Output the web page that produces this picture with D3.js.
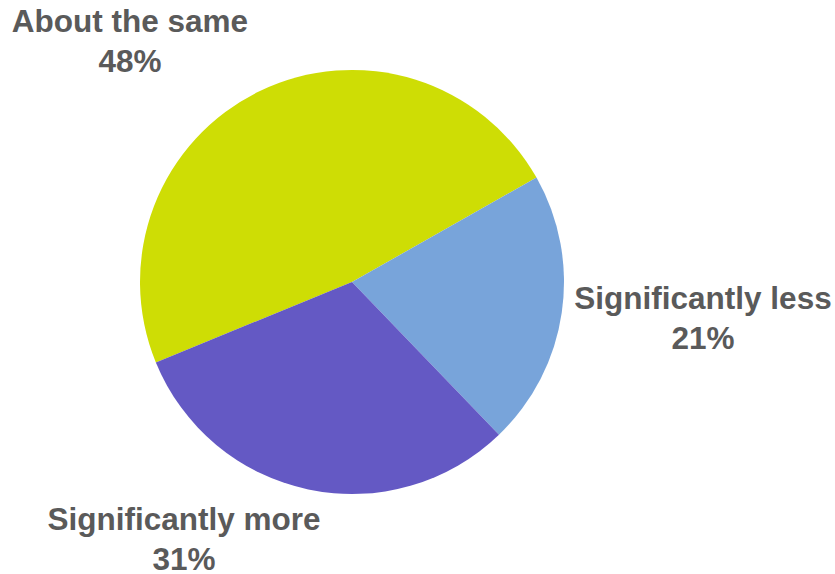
<!DOCTYPE html>
<html>
<head>
<meta charset="utf-8">
<script src="https://cdn.jsdelivr.net/npm/d3@7"></script>
<style>
  html, body { margin: 0; padding: 0; background: #ffffff; }
  svg { display: block; }
  .lbl { font-family: "Liberation Sans", Arial, sans-serif; font-weight: bold; font-size: 31.5px; fill: #5a5a5a; }
</style>
</head>
<body>
<svg id="chart" width="835" height="574"></svg>
<script>
// Survey responses (percent)
const categories = ["About the same", "Significantly less", "Significantly more"];
const values = [48, 21, 31];
const colors = ["#CEDD05", "#78A4DA", "#6459C4"];

const width = 835, height = 574;
const cx = 352, cy = 282, radius = 212;

const svg = d3.select("#chart");
const g = svg.append("g").attr("transform", `translate(${cx},${cy})`);

const data = categories.map((c, i) => ({ category: c, value: values[i], color: colors[i] }));

const startDeg = -112.3;
const pie = d3.pie()
  .sort(null)
  .value(d => d.value)
  .startAngle(startDeg * Math.PI / 180)
  .endAngle((startDeg + 360) * Math.PI / 180);

const arc = d3.arc().innerRadius(0).outerRadius(radius);

const arcs = pie(data);

g.selectAll("path.slice")
  .data(arcs)
  .join("path")
  .attr("class", "slice")
  .attr("d", arc)
  .attr("fill", d => d.data.color);

// Label anchor points (relative to the pie centre), one per category
const labelPos = {
  "About the same": [-222, -250],
  "Significantly less": [351, 27],
  "Significantly more": [-168, 248]
};
const lineGap = 40;

const labels = svg.append("g").selectAll("text")
  .data(arcs)
  .join("text")
  .attr("class", "lbl")
  .attr("text-anchor", "middle")
  .attr("transform", d => {
    const p = labelPos[d.data.category];
    return `translate(${cx + p[0]},${cy + p[1]})`;
  });

labels.append("tspan")
  .attr("x", 0).attr("y", 0)
  .text(d => d.data.category);
labels.append("tspan")
  .attr("x", 0).attr("y", lineGap)
  .text(d => d3.format(".0f")(d.data.value) + "%");
</script>
</body>
</html>
